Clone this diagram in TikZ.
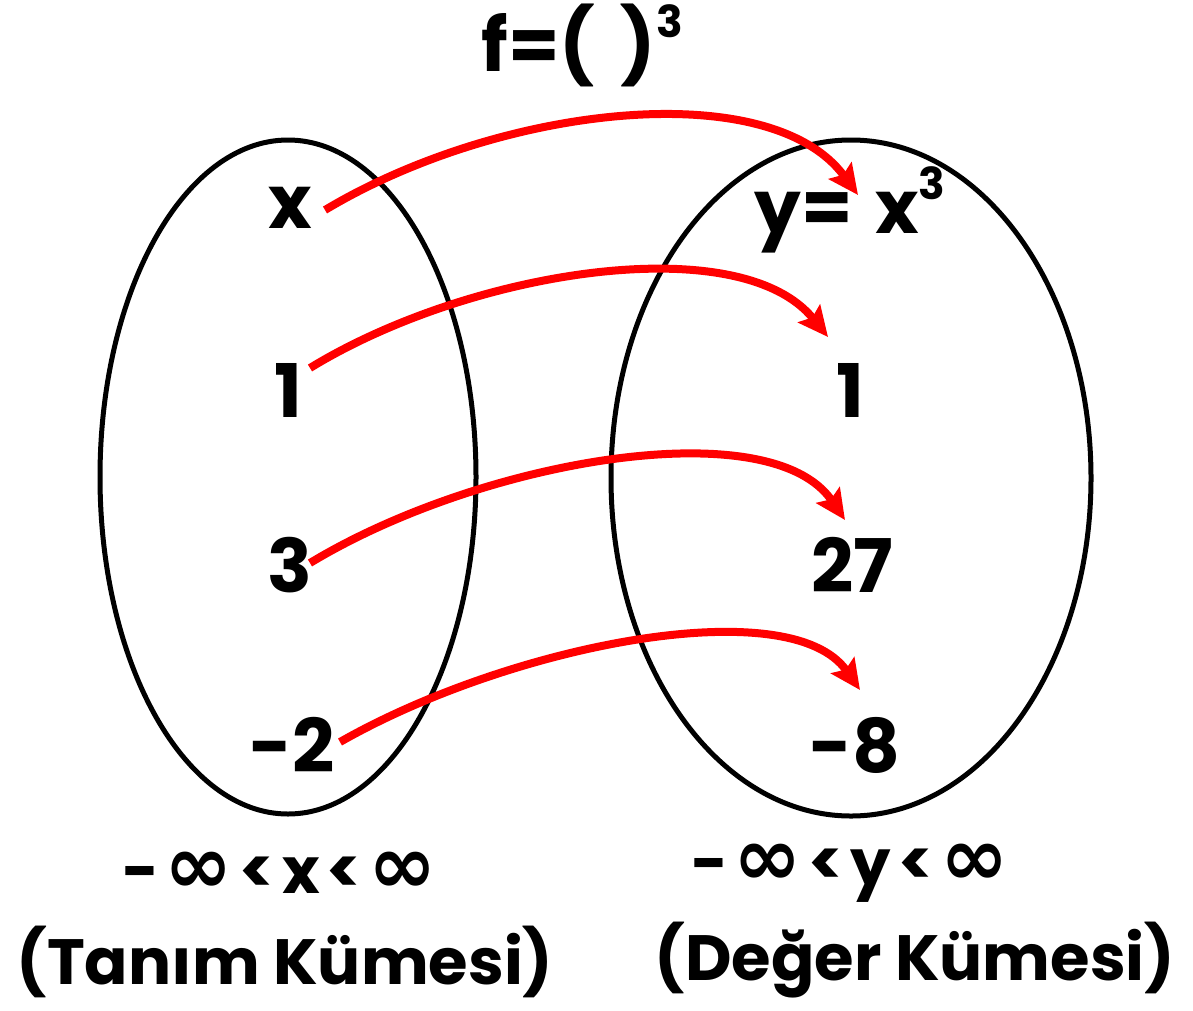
\documentclass[tikz,border=0pt]{standalone}
\usepackage{fontspec}
\setmainfont{Poppins}
\newfontfamily\symf{DejaVu Sans}
\usetikzlibrary{arrows.meta}
\newcommand{\gp}{\hspace{7pt}}
\newcommand{\inft}{{\symf\bfseries\fontsize{82}{86}\selectfont ∞}}
\tikzset{
  setel/.style={draw=black, line width=5pt},
  maparrow/.style={draw=red, line width=8pt, -{Stealth[length=30pt,width=28pt,inset=5pt]}},
  big/.style={font=\fontsize{74}{80}\selectfont\bfseries, inner sep=0pt},
  mid/.style={font=\fontsize{64}{70}\selectfont\bfseries, inner sep=0pt},
  rng/.style={font=\fontsize{64}{70}\selectfont\bfseries, inner sep=0pt},
}
\begin{document}
\begin{tikzpicture}[x=1pt,y=-1pt]
\useasboundingbox (0,0) rectangle (1193,1010);
% sets
\draw[setel] (288,477) ellipse [x radius=188, y radius=337];
\draw[setel] (851,478) ellipse [x radius=240, y radius=338];
% title
\node[big] (title) at (582,45) {f=(\hspace{0.35em})\raisebox{0.45em}{\fontsize{44}{48}\selectfont 3}};
% domain
\node[big] (lx) at (290,208) {x};
\node[big] (l1) at (288,390) {1};
\node[big] (l3) at (290,565) {3};
\node[big] (lm2) at (292,745) {-2};
% range
\node[big] (ry) at (850,210) {y=\hspace{0.3em}x\raisebox{0.45em}{\fontsize{44}{48}\selectfont 3}};
\node[big] (r1) at (850,390) {1};
\node[big] (r27) at (852,565) {27};
\node[big] (rm8) at (855,745) {-8};
% bottom labels
\node[rng] (dr) at (280,873) {−\gp\inft\gp<\gp x\gp<\gp\inft};
\node[mid] (dn) at (285,962) {(Tanım Kümesi)};
\node[rng] (rr) at (850,873) {−\gp\inft\gp<\gp y\gp<\gp\inft};
\node[mid] (rn) at (915,960) {(Değer Kümesi)};
% arrow endpoints
\coordinate (a1s) at (325,210);
\coordinate (a1e) at (858,195);
\coordinate (a2s) at (310,368);
\coordinate (a2e) at (828,337);
\coordinate (a3s) at (310,563);
\coordinate (a3e) at (845,520);
\coordinate (a4s) at (340,742);
\coordinate (a4e) at (860,690);
% mapping arrows
\draw[maparrow] (a1s) .. controls (500,105) and (770,75) .. (a1e);
\draw[maparrow] (a2s) .. controls (470,270) and (740,228) .. (a2e);
\draw[maparrow] (a3s) .. controls (480,460) and (770,410) .. (a3e);
\draw[maparrow] (a4s) .. controls (510,645) and (790,590) .. (a4e);
\end{tikzpicture}
\end{document}
